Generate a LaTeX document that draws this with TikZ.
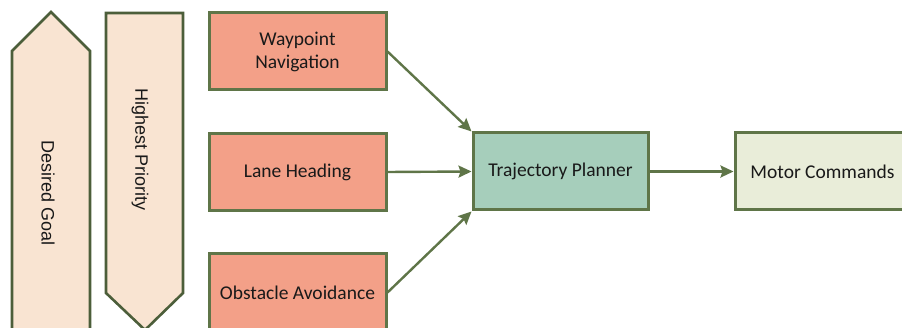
\documentclass[tikz,border=0pt]{standalone}
\usepackage{fontspec}
\setmainfont{Carlito}
\newfontfamily\arialf{Liberation Sans}
\usetikzlibrary{arrows.meta}
\definecolor{bord}{HTML}{5F7548}
\definecolor{salmon}{HTML}{F3A088}
\definecolor{teal}{HTML}{A6CEBB}
\definecolor{motor}{HTML}{E9EDD9}
\definecolor{peach}{HTML}{F9E4D2}
\tikzset{
  box/.style={draw=bord, line width=3pt, minimum width=177pt, minimum height=77pt,
    inner sep=0pt, align=center, font=\fontsize{19.5}{23}\selectfont, text=black!90},
  flow/.style={draw=bord, line width=2.4pt, -{Stealth[length=13pt,width=12pt,inset=2pt]}},
  bigarrow/.style={draw=bord!80!black, line width=2.6pt, fill=peach, line join=miter},
  vlabel/.style={rotate=-90, font=\arialf\fontsize{18}{21}\selectfont, text=black!90}
}
\begin{document}
\begin{tikzpicture}[x=1pt,y=-1pt]
\useasboundingbox (0,0) rectangle (902,328);
% priority/goal arrows
\draw[bigarrow] (12,340) -- (12,51) -- (51,12) -- (90,51) -- (90,340);
\node[vlabel] (goal) at (48,193) {Desired Goal};
\draw[bigarrow] (106,13) -- (183,13) -- (183,293) -- (145,330) -- (106,293) -- cycle;
\node[vlabel] (prio) at (140,150) {Highest Priority};
% boxes
\node[box, fill=salmon] (wp) at (297.5,51.5) {Waypoint\\Navigation};
\node[box, fill=salmon] (lh) at (297.5,172) {Lane Heading};
\node[box, fill=salmon] (oa) at (297.5,292.5) {Obstacle Avoidance};
\node[box, fill=teal, minimum width=175pt] (tp) at (560.5,171.5) {Trajectory Planner};
\node[box, fill=motor, minimum width=175pt] (mc) at (822.5,171.5) {Motor Commands};
% connectors
\draw[flow] (wp.east) -- (tp.north west);
\draw[flow] (lh.east) -- (tp.west);
\draw[flow] (oa.east) -- (tp.south west);
\draw[flow] (tp.east) -- (mc.west);
\end{tikzpicture}
\end{document}
